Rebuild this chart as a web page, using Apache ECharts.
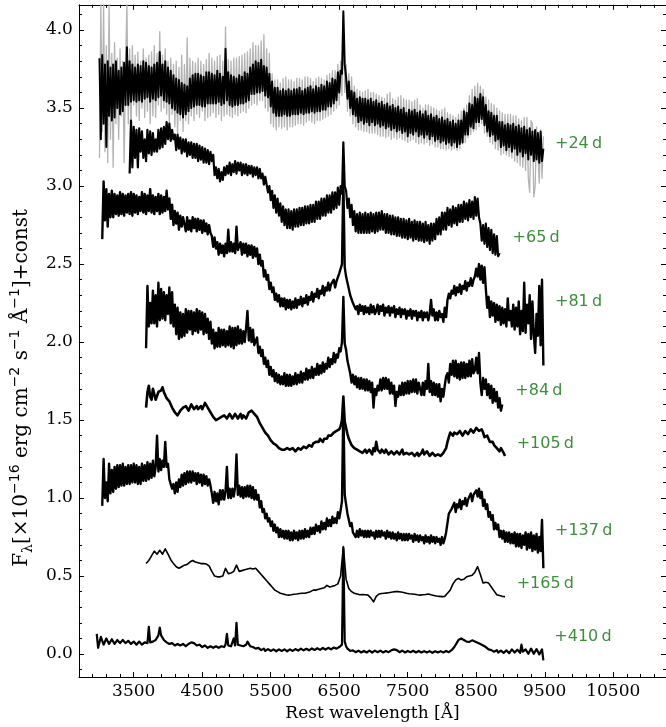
<!DOCTYPE html>
<html>
<head>
<meta charset="utf-8">
<script src="https://cdn.jsdelivr.net/npm/echarts@6/dist/echarts.min.js"></script>
<style>
  html, body { margin: 0; padding: 0; background: #ffffff; }
  #chart { width: 666px; height: 727px; }
</style>
</head>
<body>
<div id="chart"></div>
<script>
// Spectra on regular wavelength grids: 20 Å for the noisy epochs, 40 Å for the smooth +165 d one.
const FINE = 20;
const COARSE = 40;

// +24 d, smoothed (black) and raw (grey)
const start24 = 3000;
const flux24 = [
  3.82, 3.30, 3.84, 3.40, 3.78, 3.25, 3.80, 3.45, 3.76, 3.42, 3.78, 3.44, 3.80, 3.50, 3.74, 3.46, 3.76, 3.48, 3.79, 3.52,
  3.89, 3.52, 3.80, 3.54, 3.78, 3.55, 3.76, 3.54, 3.78, 3.55, 3.77, 3.54, 3.80, 3.56, 3.79, 3.57, 3.77, 3.54, 3.76, 3.56,
  3.78, 3.55, 3.79, 3.57, 3.86, 3.58, 3.78, 3.55, 3.80, 3.54, 3.76, 3.53, 3.74, 3.50, 3.71, 3.49, 3.69, 3.47, 3.68, 3.46,
  3.66, 3.44, 3.65, 3.46, 3.64, 3.48, 3.69, 3.50, 3.71, 3.51, 3.72, 3.52, 3.72, 3.52, 3.71, 3.51, 3.70, 3.51, 3.73, 3.53,
  3.73, 3.53, 3.72, 3.53, 3.71, 3.53, 3.74, 3.54, 3.72, 3.52, 3.70, 3.53, 3.88, 3.55, 3.73, 3.52, 3.71, 3.51, 3.70, 3.52,
  3.69, 3.52, 3.71, 3.53, 3.70, 3.53, 3.73, 3.54, 3.72, 3.55, 3.76, 3.59, 3.78, 3.59, 3.80, 3.60, 3.79, 3.60, 3.81, 3.61,
  3.77, 3.58, 3.76, 3.57, 3.72, 3.51, 3.67, 3.47, 3.63, 3.45, 3.63, 3.45, 3.61, 3.45, 3.62, 3.46, 3.61, 3.45, 3.62, 3.45,
  3.61, 3.46, 3.62, 3.46, 3.62, 3.46, 3.63, 3.47, 3.61, 3.46, 3.62, 3.47, 3.63, 3.47, 3.64, 3.48, 3.62, 3.47, 3.64, 3.48,
  3.63, 3.48, 3.65, 3.49, 3.64, 3.49, 3.67, 3.51, 3.66, 3.51, 3.69, 3.53, 3.68, 3.55, 3.73, 3.60, 3.74, 3.72, 4.12, 3.78,
  3.70, 3.56, 3.67, 3.50, 3.61, 3.46, 3.60, 3.45, 3.56, 3.41, 3.57, 3.42, 3.56, 3.40, 3.56, 3.41, 3.55, 3.39, 3.56, 3.41,
  3.54, 3.39, 3.55, 3.40, 3.53, 3.38, 3.54, 3.39, 3.52, 3.37, 3.53, 3.38, 3.51, 3.36, 3.52, 3.37, 3.50, 3.35, 3.51, 3.36,
  3.49, 3.34, 3.50, 3.35, 3.47, 3.32, 3.49, 3.34, 3.48, 3.33, 3.49, 3.35, 3.47, 3.32, 3.48, 3.33, 3.46, 3.31, 3.48, 3.33,
  3.45, 3.30, 3.46, 3.32, 3.44, 3.29, 3.45, 3.30, 3.43, 3.28, 3.44, 3.29, 3.42, 3.27, 3.43, 3.28, 3.41, 3.26, 3.42, 3.28,
  3.40, 3.25, 3.42, 3.27, 3.42, 3.28, 3.48, 3.33, 3.47, 3.33, 3.53, 3.38, 3.52, 3.37, 3.57, 3.41, 3.56, 3.41, 3.59, 3.43,
  3.57, 3.39, 3.52, 3.35, 3.48, 3.32, 3.47, 3.33, 3.45, 3.29, 3.45, 3.30, 3.41, 3.25, 3.41, 3.26, 3.39, 3.23, 3.40, 3.25,
  3.39, 3.22, 3.40, 3.24, 3.38, 3.20, 3.39, 3.22, 3.37, 3.19, 3.38, 3.21, 3.36, 3.17, 3.37, 3.20, 3.35, 3.16, 3.36, 3.17,
  3.34, 3.15, 3.35, 3.16, 3.24
];
const flux24raw = [
  3.18, 4.17, 3.35, 4.17, 3.22, 3.90, 3.15, 4.17, 3.30, 3.85, 3.12, 3.92, 3.40, 3.82, 3.30, 3.88, 3.45, 3.80, 3.15, 3.75,
  4.17, 3.40, 3.88, 3.35, 3.90, 3.52, 3.84, 3.45, 3.86, 3.42, 3.80, 3.50, 3.88, 3.44, 3.82, 3.48, 3.84, 3.40, 3.86, 3.45,
  3.90, 3.44, 3.85, 3.52, 3.99, 3.48, 3.84, 3.50, 3.88, 3.46, 3.80, 3.40, 3.82, 3.46, 3.78, 3.38, 3.80, 3.34, 3.76, 3.42,
  3.84, 3.35, 3.78, 3.42, 3.95, 3.40, 3.82, 3.45, 3.80, 3.42, 3.79, 3.46, 3.82, 3.44, 3.80, 3.48, 3.78, 3.42, 3.81, 3.44,
  3.85, 3.45, 3.82, 3.47, 3.80, 3.44, 3.83, 3.46, 3.84, 3.42, 3.80, 3.45, 4.02, 3.46, 3.81, 3.45, 3.80, 3.44, 3.82, 3.46,
  3.82, 3.45, 3.83, 3.47, 3.84, 3.48, 3.85, 3.47, 3.86, 3.50, 3.88, 3.52, 3.92, 3.53, 3.90, 3.52, 3.90, 3.55, 3.93, 3.55,
  3.97, 3.50, 3.88, 3.48, 3.85, 3.40, 3.72, 3.38, 3.68, 3.36, 3.68, 3.38, 3.66, 3.37, 3.69, 3.38, 3.70, 3.36, 3.68, 3.38,
  3.68, 3.38, 3.67, 3.39, 3.69, 3.40, 3.69, 3.40, 3.68, 3.39, 3.70, 3.41, 3.70, 3.42, 3.69, 3.41, 3.67, 3.40, 3.69, 3.42,
  3.70, 3.42, 3.69, 3.43, 3.68, 3.44, 3.71, 3.45, 3.72, 3.46, 3.74, 3.48, 3.74, 3.50, 3.78, 3.52, 3.80, 3.58, 4.10, 3.60,
  3.78, 3.48, 3.72, 3.45, 3.70, 3.40, 3.64, 3.38, 3.62, 3.36, 3.61, 3.36, 3.60, 3.35, 3.61, 3.35, 3.62, 3.34, 3.60, 3.34,
  3.60, 3.34, 3.59, 3.33, 3.58, 3.32, 3.57, 3.32, 3.56, 3.31, 3.59, 3.32, 3.60, 3.30, 3.56, 3.31, 3.55, 3.30, 3.57, 3.31,
  3.58, 3.30, 3.56, 3.29, 3.55, 3.28, 3.55, 3.29, 3.54, 3.30, 3.55, 3.28, 3.56, 3.27, 3.52, 3.28, 3.50, 3.27, 3.52, 3.28,
  3.52, 3.26, 3.51, 3.27, 3.50, 3.25, 3.49, 3.25, 3.48, 3.24, 3.49, 3.24, 3.50, 3.23, 3.47, 3.24, 3.46, 3.23, 3.45, 3.24,
  3.44, 3.23, 3.46, 3.24, 3.48, 3.27, 3.50, 3.28, 3.52, 3.31, 3.58, 3.33, 3.62, 3.35, 3.64, 3.36, 3.66, 3.38, 3.64, 3.40,
  3.62, 3.34, 3.57, 3.32, 3.55, 3.28, 3.53, 3.27, 3.52, 3.24, 3.50, 3.23, 3.48, 3.20, 3.47, 3.21, 3.46, 3.20, 3.46, 3.19,
  3.46, 3.18, 3.45, 3.16, 3.45, 3.15, 3.43, 3.13, 3.42, 3.12, 3.44, 3.10, 3.44, 3.05, 2.96, 3.42, 3.40, 2.93, 3.00, 3.38,
  3.38, 3.02, 3.36, 3.05, 3.32
];

// +65 d
const start65 = 3440;
const flux65 = [
  3.08, 3.42, 3.12, 3.38, 3.18, 3.36, 3.12, 3.37, 3.22, 3.35, 3.18, 3.30, 3.16, 3.36, 3.21, 3.35, 3.20, 3.34, 3.22, 3.30,
  3.22, 3.36, 3.24, 3.37, 3.25, 3.38, 3.27, 3.41, 3.30, 3.40, 3.29, 3.36, 3.30, 3.33, 3.23, 3.33, 3.24, 3.31, 3.21, 3.30,
  3.22, 3.30, 3.19, 3.28, 3.20, 3.28, 3.18, 3.27, 3.18, 3.27, 3.16, 3.26, 3.17, 3.25, 3.15, 3.24, 3.15, 3.23, 3.14, 3.22,
  3.16, 3.20, 3.07, 3.12, 3.05, 3.11, 3.03, 3.09, 3.04, 3.12, 3.07, 3.13, 3.08, 3.15, 3.07, 3.14, 3.09, 3.16, 3.08, 3.15,
  3.10, 3.15, 3.07, 3.14, 3.08, 3.14, 3.07, 3.13, 3.08, 3.13, 3.06, 3.12, 3.07, 3.12, 3.05, 3.11, 3.05, 3.08, 3.01, 3.06,
  3.05, 2.96, 3.00, 2.91, 2.97, 2.86, 2.94, 2.83, 2.92, 2.81, 2.89, 2.77, 2.87, 2.75, 2.85, 2.73, 2.85, 2.73, 2.84, 2.72,
  2.85, 2.74, 2.85, 2.74, 2.86, 2.75, 2.86, 2.75, 2.87, 2.76, 2.87, 2.76, 2.88, 2.77, 2.88, 2.77, 2.90, 2.79, 2.90, 2.79,
  2.92, 2.81, 2.92, 2.81, 2.94, 2.83, 2.94, 2.83, 2.96, 2.85, 2.96, 2.86, 2.99, 2.88, 3.00, 2.95, 3.28, 3.00, 2.97, 2.86,
  2.92, 2.80, 2.88, 2.75, 2.84, 2.71, 2.82, 2.70, 2.83, 2.70, 2.82, 2.70, 2.83, 2.70, 2.82, 2.70, 2.83, 2.71, 2.82, 2.70,
  2.83, 2.71, 2.83, 2.72, 2.84, 2.72, 2.82, 2.70, 2.82, 2.70, 2.81, 2.69, 2.81, 2.69, 2.80, 2.68, 2.80, 2.68, 2.79, 2.67,
  2.79, 2.67, 2.78, 2.66, 2.79, 2.67, 2.77, 2.65, 2.78, 2.66, 2.77, 2.65, 2.77, 2.65, 2.76, 2.64, 2.77, 2.65, 2.75, 2.63,
  2.76, 2.65, 2.76, 2.66, 2.79, 2.69, 2.80, 2.69, 2.83, 2.72, 2.83, 2.72, 2.86, 2.75, 2.85, 2.74, 2.87, 2.76, 2.86, 2.75,
  2.88, 2.77, 2.88, 2.77, 2.90, 2.79, 2.89, 2.78, 2.91, 2.80, 2.90, 2.79, 2.93, 2.81, 2.92, 2.80, 2.76, 2.65, 2.75, 2.63,
  2.76, 2.61, 2.73, 2.59, 2.72, 2.57, 2.69, 2.56, 2.68, 2.55, 2.57
];

// +81 d
const start81 = 3040;
const flux81 = [
  2.66, 3.03, 2.78, 2.98, 2.74, 2.95, 2.80, 2.97, 2.80, 2.95, 2.82, 2.94, 2.81, 2.96, 2.82, 2.95, 2.81, 2.94, 2.83, 2.95,
  2.82, 2.96, 2.81, 2.95, 2.83, 2.94, 2.82, 2.93, 2.84, 2.96, 2.83, 2.95, 2.82, 2.94, 2.84, 2.98, 2.83, 2.94, 2.82, 2.93,
  2.84, 2.95, 2.82, 2.94, 2.83, 2.93, 2.84, 2.97, 2.85, 2.92, 2.79, 2.88, 2.75, 2.84, 2.76, 2.83, 2.72, 2.81, 2.74, 2.80,
  2.79, 2.71, 2.80, 2.72, 2.78, 2.71, 2.80, 2.73, 2.79, 2.71, 2.79, 2.72, 2.78, 2.70, 2.78, 2.71, 2.76, 2.69, 2.75, 2.70,
  2.68, 2.61, 2.67, 2.60, 2.64, 2.56, 2.63, 2.57, 2.62, 2.55, 2.63, 2.57, 2.72, 2.58, 2.64, 2.58, 2.63, 2.57, 2.74, 2.59,
  2.58, 2.64, 2.56, 2.63, 2.57, 2.63, 2.55, 2.62, 2.56, 2.62, 2.54, 2.61, 2.55, 2.60, 2.50, 2.56, 2.49, 2.52, 2.42, 2.46,
  2.40, 2.43, 2.34, 2.38, 2.32, 2.35, 2.27, 2.31, 2.26, 2.30, 2.23, 2.28, 2.23, 2.28, 2.21, 2.27, 2.22, 2.27, 2.21, 2.26,
  2.22, 2.28, 2.22, 2.27, 2.24, 2.29, 2.23, 2.28, 2.25, 2.30, 2.24, 2.29, 2.27, 2.32, 2.26, 2.31, 2.29, 2.34, 2.28, 2.33,
  2.31, 2.36, 2.30, 2.35, 2.33, 2.38, 2.33, 2.37, 2.36, 2.40, 2.35, 2.39, 2.40, 2.44, 2.43, 2.50, 3.05, 2.48, 2.42, 2.38,
  2.34, 2.30, 2.31, 2.25, 2.26, 2.21, 2.23, 2.18, 2.24, 2.20, 2.23, 2.18, 2.23, 2.19, 2.22, 2.18, 2.24, 2.19, 2.23, 2.18,
  2.20, 2.24, 2.18, 2.23, 2.20, 2.24, 2.17, 2.22, 2.19, 2.23, 2.17, 2.22, 2.19, 2.23, 2.16, 2.21, 2.18, 2.22, 2.16, 2.21,
  2.18, 2.21, 2.15, 2.20, 2.17, 2.21, 2.15, 2.20, 2.17, 2.20, 2.14, 2.19, 2.16, 2.20, 2.14, 2.19, 2.16, 2.19, 2.14, 2.18,
  2.27, 2.17, 2.21, 2.14, 2.19, 2.14, 2.20, 2.16, 2.18, 2.13, 2.22, 2.16, 2.27, 2.31, 2.28, 2.33, 2.31, 2.36, 2.30, 2.35,
  2.32, 2.37, 2.31, 2.36, 2.34, 2.39, 2.33, 2.38, 2.36, 2.41, 2.36, 2.40, 2.42, 2.47, 2.42, 2.50, 2.40, 2.49, 2.38, 2.48,
  2.34, 2.22, 2.29, 2.16, 2.26, 2.17, 2.25, 2.13, 2.24, 2.14, 2.23, 2.11, 2.22, 2.12, 2.21, 2.10, 2.28, 2.14, 2.20, 2.10,
  2.24, 2.08, 2.22, 2.10, 2.26, 2.05, 2.20, 2.07, 2.38, 2.06, 2.24, 2.12, 2.30, 2.02, 2.26, 2.05, 1.93, 2.18, 2.04, 2.36,
  1.98, 2.40, 1.85
];

// +84 d
const start84 = 3680;
const flux84 = [
  1.96, 2.36, 2.10, 2.25, 2.12, 2.33, 2.12, 2.30, 2.10, 2.38, 2.14, 2.34, 2.15, 2.32, 2.14, 2.30, 2.18, 2.35, 2.12, 2.32,
  2.10, 2.24, 2.05, 2.22, 2.02, 2.19, 2.03, 2.18, 2.04, 2.21, 2.06, 2.20, 2.08, 2.20, 2.05, 2.19, 2.07, 2.21, 2.06, 2.20,
  2.08, 2.19, 2.05, 2.18, 2.06, 2.15, 2.02, 2.13, 1.99, 2.08, 1.96, 2.06, 1.97, 2.09, 1.97, 2.08, 1.98, 2.08, 1.97, 2.07,
  1.98, 2.10, 1.97, 2.09, 1.96, 2.09, 1.98, 2.10, 1.99, 2.08, 1.99, 2.07, 2.00, 2.09, 2.20, 2.01, 2.09, 2.00, 2.08, 1.98,
  1.99, 2.03, 1.93, 1.97, 1.91, 1.95, 1.86, 1.90, 1.84, 1.88, 1.79, 1.84, 1.78, 1.82, 1.75, 1.80, 1.74, 1.79, 1.73, 1.78,
  1.73, 1.80, 1.72, 1.79, 1.72, 1.79, 1.72, 1.78, 1.73, 1.80, 1.73, 1.79, 1.74, 1.81, 1.74, 1.80, 1.76, 1.83, 1.76, 1.82,
  1.77, 1.84, 1.77, 1.83, 1.79, 1.86, 1.79, 1.85, 1.80, 1.87, 1.81, 1.86, 1.83, 1.90, 1.84, 1.89, 1.86, 1.93, 1.87, 1.92,
  1.90, 1.96, 1.94, 2.00, 2.29, 1.99, 1.95, 1.88, 1.84, 1.80, 1.74, 1.79, 1.73, 1.78, 1.71, 1.77, 1.70, 1.77, 1.70, 1.76,
  1.69, 1.76, 1.69, 1.75, 1.68, 1.74, 1.58, 1.70, 1.66, 1.72, 1.69, 1.76, 1.69, 1.77, 1.70, 1.77, 1.70, 1.76, 1.67, 1.74,
  1.67, 1.72, 1.59, 1.68, 1.65, 1.72, 1.66, 1.74, 1.66, 1.74, 1.67, 1.75, 1.67, 1.75, 1.68, 1.76, 1.68, 1.76, 1.67, 1.74,
  1.73, 1.66, 1.74, 1.66, 1.75, 1.70, 1.86, 1.68, 1.75, 1.66, 1.74, 1.66, 1.73, 1.65, 1.73, 1.62, 1.70, 1.65, 1.72, 1.78,
  1.80, 1.74, 1.86, 1.79, 1.88, 1.78, 1.88, 1.77, 1.86, 1.76, 1.87, 1.77, 1.87, 1.77, 1.86, 1.78, 1.88, 1.78, 1.89, 1.80,
  1.82, 1.90, 1.80, 1.93, 1.74, 1.66, 1.77, 1.70, 1.76, 1.66, 1.73, 1.64, 1.72, 1.61, 1.70, 1.62, 1.68, 1.58, 1.64, 1.56,
  1.60
];

// +105 d
const start105 = 3680;
const flux105 = [
  1.58, 1.68, 1.72, 1.65, 1.63, 1.70, 1.69, 1.63, 1.64, 1.68, 1.67, 1.69, 1.71, 1.68, 1.67, 1.64, 1.63, 1.62, 1.60, 1.58,
  1.57, 1.55, 1.56, 1.53, 1.53, 1.56, 1.55, 1.58, 1.57, 1.59, 1.59, 1.56, 1.57, 1.60, 1.59, 1.57, 1.58, 1.59, 1.57, 1.58,
  1.59, 1.57, 1.58, 1.61, 1.60, 1.58, 1.57, 1.55, 1.54, 1.52, 1.51, 1.50, 1.49, 1.51, 1.50, 1.52, 1.51, 1.53, 1.53, 1.51,
  1.52, 1.54, 1.53, 1.51, 1.51, 1.54, 1.53, 1.51, 1.52, 1.54, 1.51, 1.53, 1.53, 1.51, 1.52, 1.55, 1.54, 1.56, 1.55, 1.54,
  1.53, 1.52, 1.50, 1.48, 1.47, 1.45, 1.44, 1.42, 1.41, 1.40, 1.39, 1.37, 1.37, 1.35, 1.36, 1.34, 1.34, 1.32, 1.33, 1.31,
  1.32, 1.31, 1.30, 1.32, 1.33, 1.31, 1.30, 1.32, 1.33, 1.30, 1.30, 1.32, 1.33, 1.31, 1.31, 1.33, 1.34, 1.32, 1.32, 1.34,
  1.34, 1.33, 1.35, 1.36, 1.36, 1.35, 1.36, 1.38, 1.37, 1.36, 1.38, 1.39, 1.38, 1.40, 1.39, 1.40, 1.40, 1.42, 1.41, 1.43,
  1.42, 1.44, 1.46, 1.50, 1.65, 1.49, 1.45, 1.41, 1.38, 1.36, 1.34, 1.33, 1.32, 1.31, 1.31, 1.30, 1.30, 1.31, 1.29, 1.30,
  1.31, 1.29, 1.29, 1.31, 1.30, 1.28, 1.32, 1.30, 1.36, 1.31, 1.30, 1.29, 1.31, 1.30, 1.29, 1.31, 1.30, 1.28, 1.29, 1.30,
  1.30, 1.28, 1.28, 1.30, 1.30, 1.28, 1.29, 1.31, 1.28, 1.27, 1.29, 1.30, 1.28, 1.27, 1.29, 1.30, 1.27, 1.28, 1.29, 1.27,
  1.28, 1.29, 1.31, 1.28, 1.28, 1.30, 1.29, 1.27, 1.27, 1.29, 1.28, 1.27, 1.27, 1.28, 1.29, 1.27, 1.28, 1.29, 1.30, 1.32,
  1.36, 1.39, 1.42, 1.41, 1.40, 1.42, 1.43, 1.41, 1.41, 1.43, 1.42, 1.40, 1.41, 1.43, 1.43, 1.41, 1.42, 1.44, 1.44, 1.42,
  1.43, 1.45, 1.46, 1.43, 1.42, 1.44, 1.42, 1.39, 1.38, 1.40, 1.39, 1.36, 1.35, 1.36, 1.34, 1.33, 1.32, 1.31, 1.30, 1.32,
  1.31, 1.29, 1.27
];

// +137 d
const start137 = 3040;
const flux137 = [
  0.95, 1.25, 1.00, 1.10, 0.98, 1.22, 1.03, 1.18, 1.04, 1.20, 1.06, 1.21, 1.07, 1.21, 1.08, 1.22, 1.08, 1.20, 1.09, 1.21,
  1.09, 1.21, 1.10, 1.22, 1.10, 1.21, 1.09, 1.20, 1.09, 1.22, 1.11, 1.21, 1.11, 1.23, 1.12, 1.22, 1.13, 1.24, 1.14, 1.20,
  1.40, 1.17, 1.25, 1.18, 1.24, 1.20, 1.36, 1.20, 1.22, 1.12, 1.13, 1.06, 1.09, 1.03, 1.10, 1.04, 1.12, 1.07, 1.15, 1.08,
  1.16, 1.09, 1.17, 1.10, 1.17, 1.10, 1.17, 1.11, 1.16, 1.09, 1.16, 1.10, 1.15, 1.08, 1.15, 1.09, 1.14, 1.08, 1.12, 1.08,
  1.03, 0.97, 1.04, 0.98, 1.03, 0.96, 1.05, 0.99, 1.05, 0.99, 1.04, 1.20, 1.00, 1.06, 1.00, 1.06, 1.01, 1.07, 1.28, 1.02,
  1.08, 1.01, 1.07, 1.00, 1.07, 1.01, 1.08, 1.01, 1.08, 1.00, 1.07, 0.99, 1.05, 0.99, 1.02, 0.94, 0.98, 0.91, 0.93, 0.87,
  0.90, 0.85, 0.87, 0.82, 0.85, 0.79, 0.83, 0.78, 0.81, 0.75, 0.80, 0.75, 0.79, 0.74, 0.79, 0.74, 0.79, 0.73, 0.78, 0.73,
  0.79, 0.74, 0.78, 0.73, 0.79, 0.74, 0.79, 0.74, 0.80, 0.75, 0.79, 0.75, 0.81, 0.77, 0.81, 0.77, 0.83, 0.79, 0.82, 0.78,
  0.85, 0.80, 0.84, 0.80, 0.87, 0.82, 0.86, 0.82, 0.88, 0.84, 0.87, 0.84, 0.91, 0.87, 0.92, 0.98, 1.60, 1.02, 0.96, 0.90,
  0.86, 0.82, 0.84, 0.78, 0.79, 0.75, 0.79, 0.75, 0.80, 0.76, 0.79, 0.75, 0.79, 0.75, 0.79, 0.75, 0.79, 0.76, 0.78, 0.74,
  0.79, 0.75, 0.79, 0.75, 0.79, 0.76, 0.78, 0.74, 0.79, 0.75, 0.78, 0.74, 0.78, 0.74, 0.77, 0.73, 0.78, 0.74, 0.77, 0.73,
  0.77, 0.73, 0.77, 0.73, 0.77, 0.74, 0.76, 0.72, 0.77, 0.73, 0.76, 0.72, 0.76, 0.73, 0.75, 0.71, 0.76, 0.72, 0.75, 0.71,
  0.76, 0.72, 0.75, 0.71, 0.75, 0.72, 0.74, 0.70, 0.75, 0.71, 0.74, 0.78, 0.84, 0.90, 0.89, 0.93, 0.92, 0.97, 0.91, 0.96,
  0.94, 0.99, 0.93, 0.98, 0.96, 1.00, 0.95, 0.99, 0.98, 1.03, 0.98, 1.02, 1.01, 1.05, 1.01, 1.06, 1.00, 1.04, 0.95, 0.99,
  0.93, 0.96, 0.88, 0.91, 0.86, 0.89, 0.80, 0.84, 0.80, 0.83, 0.75, 0.79, 0.74, 0.79, 0.72, 0.78, 0.72, 0.78, 0.71, 0.77,
  0.71, 0.78, 0.69, 0.77, 0.69, 0.77, 0.68, 0.76, 0.70, 0.78, 0.67, 0.77, 0.68, 0.78, 0.66, 0.76, 0.67, 0.77, 0.65, 0.75,
  0.66, 0.86, 0.55
];

// +165 d
const start165 = 3680;
const flux165 = [
  0.58, 0.60, 0.63, 0.66, 0.64, 0.665, 0.64, 0.675, 0.64, 0.605,
  0.58, 0.56, 0.55, 0.56, 0.57, 0.575, 0.59, 0.60, 0.59, 0.585,
  0.58, 0.58, 0.577, 0.565, 0.53, 0.50, 0.495, 0.495, 0.50, 0.55,
  0.515, 0.52, 0.53, 0.57, 0.53, 0.535, 0.54, 0.545, 0.55, 0.545,
  0.55, 0.53, 0.51, 0.49, 0.47, 0.45, 0.43, 0.41, 0.40, 0.39,
  0.385, 0.38, 0.378, 0.38, 0.383, 0.385, 0.388, 0.39, 0.39, 0.395,
  0.40, 0.41, 0.41, 0.415, 0.42, 0.425, 0.44, 0.43, 0.435, 0.44,
  0.45, 0.50, 0.69, 0.48, 0.42, 0.40, 0.39, 0.385, 0.38, 0.382,
  0.38, 0.378, 0.36, 0.335, 0.37, 0.385, 0.388, 0.39, 0.392, 0.395,
  0.398, 0.40, 0.40, 0.398, 0.395, 0.39, 0.387, 0.385, 0.383, 0.38,
  0.378, 0.38, 0.382, 0.385, 0.38, 0.376, 0.372, 0.37, 0.368, 0.37,
  0.39, 0.41, 0.45, 0.475, 0.485, 0.475, 0.48, 0.495, 0.50, 0.505,
  0.525, 0.56, 0.51, 0.455, 0.46, 0.455, 0.43, 0.405, 0.38, 0.375,
  0.37, 0.368
];

// +410 d
const start410 = 2960;
const flux410 = [
  0.13, 0.04, 0.05, 0.11, 0.10, 0.06, 0.07, 0.10, 0.09, 0.065, 0.07, 0.095, 0.085, 0.065, 0.07, 0.09, 0.09, 0.07, 0.075, 0.09,
  0.085, 0.07, 0.07, 0.085, 0.08, 0.065, 0.065, 0.08, 0.075, 0.06, 0.065, 0.08, 0.08, 0.06, 0.06, 0.075, 0.075, 0.07, 0.175, 0.075,
  0.07, 0.08, 0.08, 0.09, 0.10, 0.12, 0.17, 0.12, 0.11, 0.09, 0.08, 0.075, 0.07, 0.065, 0.06, 0.07, 0.065, 0.055, 0.055, 0.065,
  0.065, 0.055, 0.055, 0.065, 0.06, 0.05, 0.055, 0.065, 0.065, 0.075, 0.08, 0.07, 0.065, 0.055, 0.05, 0.06, 0.055, 0.045, 0.045, 0.055,
  0.05, 0.04, 0.04, 0.05, 0.05, 0.04, 0.04, 0.05, 0.05, 0.04, 0.04, 0.05, 0.05, 0.045, 0.06, 0.13, 0.055, 0.045, 0.05, 0.06,
  0.10, 0.055, 0.20, 0.06, 0.05, 0.055, 0.06, 0.05, 0.045, 0.06, 0.08, 0.065, 0.05, 0.045, 0.045, 0.05, 0.035, 0.045, 0.04, 0.03,
  0.025, 0.035, 0.035, 0.02, 0.02, 0.032, 0.03, 0.02, 0.02, 0.03, 0.03, 0.018, 0.02, 0.03, 0.03, 0.02, 0.02, 0.03, 0.028, 0.018,
  0.02, 0.03, 0.03, 0.02, 0.022, 0.032, 0.032, 0.022, 0.025, 0.035, 0.035, 0.024, 0.025, 0.034, 0.033, 0.024, 0.026, 0.036, 0.036, 0.026,
  0.028, 0.037, 0.036, 0.027, 0.03, 0.039, 0.038, 0.029, 0.03, 0.04, 0.038, 0.03, 0.032, 0.042, 0.04, 0.035, 0.035, 0.045, 0.05, 0.06,
  0.68, 0.08, 0.05, 0.035, 0.025, 0.02, 0.015, 0.024, 0.022, 0.012, 0.012, 0.022, 0.02, 0.01, 0.01, 0.02, 0.02, 0.01, 0.012, 0.022,
  0.02, 0.01, 0.01, 0.022, 0.022, 0.012, 0.012, 0.022, 0.02, 0.01, 0.01, 0.02, 0.021, 0.012, 0.012, 0.024, 0.025, 0.03, 0.038, 0.025,
  0.02, 0.012, 0.012, 0.022, 0.02, 0.01, 0.01, 0.02, 0.02, 0.012, 0.012, 0.021, 0.02, 0.01, 0.01, 0.02, 0.018, 0.01, 0.01, 0.019,
  0.02, 0.01, 0.01, 0.019, 0.018, 0.008, 0.008, 0.018, 0.018, 0.01, 0.01, 0.019, 0.018, 0.01, 0.01, 0.02, 0.02, 0.012, 0.015, 0.025,
  0.035, 0.045, 0.06, 0.075, 0.09, 0.10, 0.10, 0.09, 0.09, 0.085, 0.08, 0.076, 0.078, 0.084, 0.088, 0.082, 0.08, 0.074, 0.072, 0.068,
  0.064, 0.06, 0.055, 0.05, 0.045, 0.035, 0.03, 0.026, 0.025, 0.015, 0.015, 0.025, 0.025, 0.01, 0.01, 0.022, 0.022, 0.008, 0.008, 0.024,
  0.025, 0.005, 0.005, 0.03, 0.03, 0.01, 0.01, 0.028, 0.025, 0.008, 0.06, 0.015, 0.005, 0.03, 0.03, 0.002, 0.0, 0.035, 0.035, 0.002,
  0.0, 0.032, 0.03, -0.002, -0.005, 0.03, -0.04
];

// Epoch annotations
const epochLabels = ['+24\u2009d', '+65\u2009d', '+81\u2009d', '+84\u2009d', '+105\u2009d', '+137\u2009d', '+165\u2009d', '+410\u2009d'];
const labelWave = [9650, 9030, 9650, 9070, 9090, 9650, 9090, 9640];
const labelFlux = [3.27, 2.67, 2.26, 1.69, 1.35, 0.79, 0.45, 0.11];

// Axis ticks
const xMajorTicks = [3500, 4500, 5500, 6500, 7500, 8500, 9500, 10500];
const xMinorTicks = [2900, 3100, 3300, 3700, 3900, 4100, 4300, 4700, 4900, 5100, 5300,
  5700, 5900, 6100, 6300, 6700, 6900, 7100, 7300, 7700, 7900, 8100, 8300,
  8700, 8900, 9100, 9300, 9700, 9900, 10100, 10300, 10700, 10900, 11100];
const yMajorTicks = [0, 0.5, 1, 1.5, 2, 2.5, 3, 3.5, 4];
const yMinorTicks = [-0.1, 0.1, 0.2, 0.3, 0.4, 0.6, 0.7, 0.8, 0.9, 1.1, 1.2, 1.3, 1.4,
  1.6, 1.7, 1.8, 1.9, 2.1, 2.2, 2.3, 2.4, 2.6, 2.7, 2.8, 2.9, 3.1, 3.2, 3.3, 3.4,
  3.6, 3.7, 3.8, 3.9, 4.1];

const X_MIN = 2700, X_MAX = 11270;
const Y_MIN = -0.147, Y_MAX = 4.162;

const serif = 'DejaVu Serif';
const ink = '#000000';

function spectrum(start, step, flux) {
  return flux.map((f, i) => [start + step * i, f]);
}

function xAxisDef(position, ticks, len, showLine, showLabel, extra) {
  return Object.assign({
    type: 'value', min: X_MIN, max: X_MAX, position: position,
    axisLine: { show: showLine, onZero: false, lineStyle: { color: ink, width: 1 } },
    axisTick: { show: true, inside: true, length: len, customValues: ticks, lineStyle: { color: ink, width: 1 } },
    axisLabel: { show: showLabel, customValues: ticks, margin: 6, fontFamily: serif, fontSize: 17, color: ink,
      formatter: v => String(v) },
    splitLine: { show: false }
  }, extra || {});
}

function yAxisDef(position, ticks, len, showLine, showLabel, extra) {
  return Object.assign({
    type: 'value', min: Y_MIN, max: Y_MAX, position: position,
    axisLine: { show: showLine, onZero: false, lineStyle: { color: ink, width: 1 } },
    axisTick: { show: true, inside: true, length: len, customValues: ticks, lineStyle: { color: ink, width: 1 } },
    axisLabel: { show: showLabel, customValues: ticks, margin: 6, fontFamily: serif, fontSize: 17, color: ink,
      formatter: v => v.toFixed(1) },
    splitLine: { show: false }
  }, extra || {});
}

function lineSeries(name, start, step, flux, color, width, z) {
  return {
    name: name, type: 'line', xAxisIndex: 0, yAxisIndex: 0,
    data: spectrum(start, step, flux),
    showSymbol: false, symbol: 'none', z: z,
    lineStyle: { color: color, width: width, join: 'round' },
    emphasis: { disabled: true }, silent: true
  };
}

const chart = echarts.init(document.getElementById('chart'), null, { renderer: 'canvas' });

chart.setOption({
  backgroundColor: '#ffffff',
  animation: false,
  grid: { left: 65.3, top: 4.8, width: 601, height: 672.2, containLabel: false },
  xAxis: [
    xAxisDef('bottom', xMajorTicks, 5, true, true, {
      name: 'Rest wavelength [Å]', nameLocation: 'middle', nameGap: 28,
      nameTextStyle: { fontFamily: serif, fontSize: 17, color: ink }
    }),
    xAxisDef('bottom', xMinorTicks, 3, false, false),
    xAxisDef('top', xMajorTicks, 5, true, false),
    xAxisDef('top', xMinorTicks, 3, false, false)
  ],
  yAxis: [
    yAxisDef('left', yMajorTicks, 5, true, true, {
      name: '{t|F}{sub|λ}{t|[×10}{sup|−16}{t| erg cm}{sup|−2}{t| s}{sup|−1}{t| Å}{sup|−1}{t|]+const}',
      nameLocation: 'middle', nameGap: 43, nameRotate: 90,
      nameTextStyle: {
        fontFamily: serif, fontSize: 20, color: ink, padding: [0, 94, 0, 0],
        rich: {
          t: { fontFamily: serif, fontSize: 20, lineHeight: 27, color: ink },
          sup: { fontFamily: 'DejaVu Sans', fontSize: 14, lineHeight: 14, verticalAlign: 'top', color: ink },
          sub: { fontFamily: serif, fontSize: 14, lineHeight: 14, verticalAlign: 'bottom', color: ink }
        }
      }
    }),
    yAxisDef('left', yMinorTicks, 3, false, false),
    yAxisDef('right', yMajorTicks, 5, false, false),
    yAxisDef('right', yMinorTicks, 3, false, false)
  ],
  series: [
    lineSeries('+24 d raw', start24, FINE, flux24raw, '#b3b3b3', 1.3, 2),
    lineSeries('+24 d', start24, FINE, flux24, ink, 2.0, 3),
    lineSeries('+65 d', start65, FINE, flux65, ink, 2.2, 3),
    lineSeries('+81 d', start81, FINE, flux81, ink, 2.4, 3),
    lineSeries('+84 d', start84, FINE, flux84, ink, 2.4, 3),
    lineSeries('+105 d', start105, FINE, flux105, ink, 2.6, 3),
    lineSeries('+137 d', start137, FINE, flux137, ink, 2.4, 3),
    lineSeries('+165 d', start165, COARSE, flux165, ink, 1.6, 3),
    lineSeries('+410 d', start410, FINE, flux410, ink, 2.2, 3),
    {
      name: 'epochs', type: 'scatter', xAxisIndex: 0, yAxisIndex: 0,
      symbolSize: 0, silent: true, z: 5,
      data: labelWave.map((w, i) => [w, labelFlux[i], epochLabels[i]]),
      label: {
        show: true, position: 'right', distance: 0,
        formatter: p => p.data[2],
        fontFamily: 'DejaVu Sans', fontSize: 16, color: '#0a720a'
      }
    }
  ]
});
</script>
</body>
</html>
